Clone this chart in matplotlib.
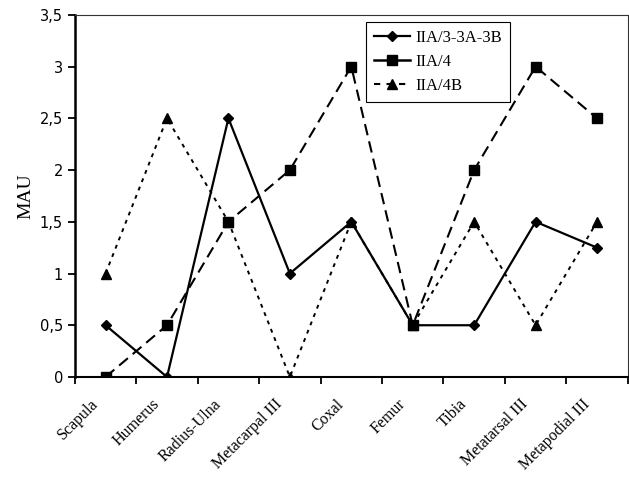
import matplotlib.pyplot as plt
from matplotlib.lines import Line2D
from matplotlib.ticker import FuncFormatter, MultipleLocator
import numpy as np

categories = ["Scapula", "Humerus", "Radius-Ulna", "Metacarpal III", "Coxal",
              "Femur", "Tibia", "Metatarsal III", "Metapodial III"]
iia_3 = [0.5, 0, 2.5, 1, 1.5, 0.5, 0.5, 1.5, 1.25]
iia_4 = [0, 0.5, 1.5, 2, 3, 0.5, 2, 3, 2.5]
iia_4b = [1, 2.5, 1.5, 0, 1.5, 0.5, 1.5, 0.5, 1.5]
series_names = ["IIA/3-3A-3B", "IIA/4", "IIA/4B"]

serif = "Liberation Serif"

fig = plt.figure(figsize=(6.29, 4.79), dpi=100)
ax = fig.add_axes([0.119, 0.213, 0.879, 0.756])

x = np.arange(len(categories))
ax.plot(x, iia_3, color="black", lw=1.6, marker="D", ms=5)
ax.plot(x, iia_4, color="black", lw=1.5, ls=(0, (5.5, 3)), marker="s", ms=7)
ax.plot(x, iia_4b, color="black", lw=1.4, ls=(0, (2, 2.6)), marker="^", ms=7)

ax.set_xlim(-0.5, len(categories) - 0.5)
ax.set_ylim(0, 3.5)
ax.yaxis.set_major_locator(MultipleLocator(0.5))
ax.yaxis.set_major_formatter(FuncFormatter(lambda v, p: ("%g" % v).replace(".", ",")))

# ticks between categories, labels at the centers
ax.set_xticks(np.arange(-0.5, len(categories), 1))
ax.set_xticklabels([])
ax.set_xticks(x - 0.25, minor=True)
ax.set_xticklabels(categories, minor=True, rotation=45, ha="right",
                   rotation_mode="anchor", family=serif, fontsize=11.5)
ax.tick_params(axis="x", which="minor", length=0, pad=14)
ax.tick_params(axis="x", which="major", length=5, width=1.3, direction="out")
ax.tick_params(axis="y", length=5, width=1.3, labelsize=10.5)

ax.spines["left"].set_linewidth(1.8)
ax.spines["bottom"].set_linewidth(1.5)
ax.spines["top"].set_linewidth(0.8)
ax.spines["right"].set_linewidth(0.8)
ax.spines["top"].set_color("#333333")
ax.spines["right"].set_color("#333333")

ax.set_ylabel("MAU", family=serif, fontsize=14, labelpad=4)

handles = [
    Line2D([], [], color="black", lw=1.6, marker="D", ms=5),
    Line2D([], [], color="black", lw=1.8, marker="s", ms=7),
    Line2D([], [], color="black", lw=1.5, ls=(0, (3, 3)), marker="^", ms=7),
]
leg = ax.legend(handles, series_names, loc="upper left", bbox_to_anchor=(0.527, 0.98),
                prop={"family": serif, "size": 12}, frameon=True, fancybox=False,
                edgecolor="black", framealpha=1, handlelength=2.2, handletextpad=0.3,
                borderpad=0.45, labelspacing=0.5, borderaxespad=0)
leg.get_frame().set_linewidth(0.8)

fig.savefig("out.png", dpi=100)
